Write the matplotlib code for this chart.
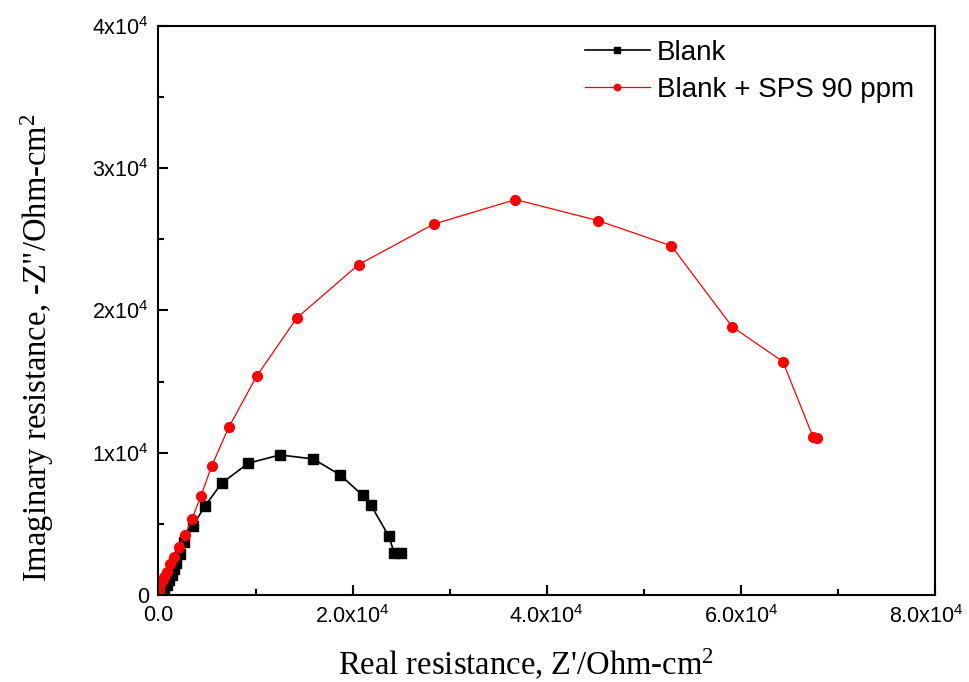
import numpy as np
import matplotlib
matplotlib.use('Agg')
import matplotlib.pyplot as plt
import matplotlib.transforms as mtransforms
from matplotlib.ticker import MultipleLocator

# Nyquist data (Z', -Z'') in Ohm-cm2
blank_x = [150, 330, 566, 844, 1112, 1359, 1565, 1843, 2255, 2677, 3521, 4788,
           6507, 9246, 12510, 15938, 18716, 21025, 21879, 23732, 24278, 24968]
blank_y = [100, 232, 401, 703, 1055, 1406, 1814, 2250, 2869, 3706, 4838, 6259,
           7855, 9261, 9845, 9564, 8438, 7011, 6329, 4128, 2975, 2975]

sps_x = [20, 100, 206, 360, 566, 844, 1184, 1596, 2111, 2728, 3449, 4376, 5478,
         7259, 10111, 14260, 20613, 28335, 36777, 45282, 52840, 59120, 64330,
         67420, 67832]
sps_y = [230, 520, 752, 985, 1287, 1638, 2180, 2672, 3375, 4219, 5344, 6962, 9071,
         11814, 15379, 19479, 23227, 26068, 27798, 26321, 24542, 18846, 16406,
         11132, 11020]

xticks = [0, 20000, 40000, 60000, 80000]
xticklabels = ['0.0', '2.0x10$^4$', '4.0x10$^4$', '6.0x10$^4$', '8.0x10$^4$']
yticks = [0, 10000, 20000, 30000, 40000]
yticklabels = ['0', '1x10$^4$', '2x10$^4$', '3x10$^4$', '4x10$^4$']

plt.rcParams['mathtext.default'] = 'regular'

fig = plt.figure(figsize=(9.7, 6.82), dpi=100)
ax = fig.add_axes([0.1634, 0.1276, 0.8005, 0.8343])

ax.plot(blank_x, blank_y, color='black', lw=1.2, marker='s', ms=6.5,
        label='Blank')
ax.plot(sps_x, sps_y, color='#ff0000', lw=0.9, marker='o', ms=7,
        label='Blank + SPS 90 ppm')

ax.set_xlim(0, 80000)
ax.set_ylim(0, 40000)
ax.set_xticks(xticks)
ax.set_xticklabels(xticklabels, family='Liberation Sans', fontsize=15.5)
ax.set_yticks(yticks)
ax.set_yticklabels(yticklabels, family='Liberation Sans', fontsize=15.5)
ax.xaxis.set_minor_locator(MultipleLocator(10000))
ax.yaxis.set_minor_locator(MultipleLocator(5000))
ax.tick_params(which='both', direction='in', width=1.5, top=False, right=False)
ax.tick_params(which='major', length=7, pad=7)
ax.tick_params(which='minor', length=4)
for sp in ax.spines.values():
    sp.set_linewidth(1.5)

# last x label sits against the figure edge, nudge it left a bit
last = ax.get_xticklabels()[-1]
last.set_transform(last.get_transform() +
                   mtransforms.ScaledTranslation(-0.09, 0, fig.dpi_scale_trans))

ax.set_xlabel("Real resistance, Z'/Ohm-cm$^2$", family='Liberation Serif',
              fontsize=23.5)
ax.set_ylabel('Imaginary resistance, -Z"/Ohm-cm$^2$', family='Liberation Serif',
              fontsize=23.5)
ax.xaxis.set_label_coords(0.473, -0.092)
ax.yaxis.set_label_coords(-0.132, 0.434)

leg = ax.legend(loc='upper left', bbox_to_anchor=(0.549, 0.975), frameon=False,
                prop={'family': 'Liberation Sans', 'size': 20},
                handlelength=2.35, handletextpad=0.25, labelspacing=0.38,
                borderpad=0, borderaxespad=0, markerscale=0.65)

fig.savefig('out.png', dpi=100)
